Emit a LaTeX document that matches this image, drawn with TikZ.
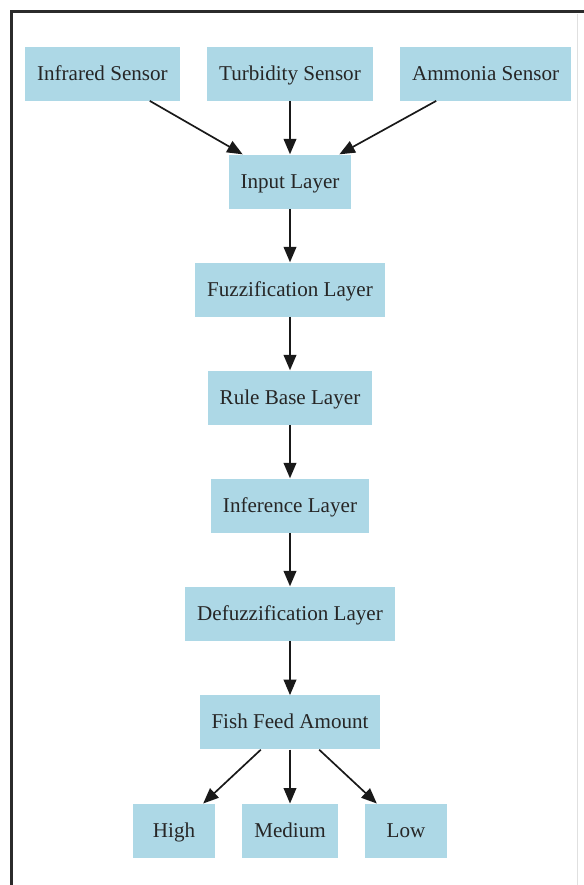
\documentclass[tikz,border=0pt]{standalone}
\usepackage{fontspec}
\setmainfont{Liberation Serif}
\usetikzlibrary{arrows, arrows.meta}

\definecolor{boxblue}{HTML}{ADD8E6}
\definecolor{framegray}{HTML}{2B2B2B}

\begin{document}
\begin{tikzpicture}[
    layer/.style={rectangle, fill=boxblue, inner xsep=0.3cm, inner ysep=0pt,
      minimum width=2.05cm, minimum height=1.35cm,
      text height=2.4ex, text depth=0.4ex,
      font=\fontsize{15}{18}\selectfont, text=black!85},
    link/.style={-{Triangle[length=11pt, width=9pt]}, line width=1.2pt, black!90}
  ]
      \useasboundingbox (0,0) rectangle (14.6,-22.125);
      \fill[white] (0,0) rectangle (14.6,-22.125);

      % frame
      \draw[framegray, line width=2.1pt] (0.2875,-22.125) -- (0.2875,-0.2875) -- (14.6,-0.2875);
      \draw[black!12, line width=0.6pt] (14.43,-0.35) -- (14.43,-22.125);

      % sensors
      \node[layer] (infra) at (2.56,-1.84) {Infrared Sensor};
      \node[layer] (turb) at (7.25,-1.84) {Turbidity Sensor};
      \node[layer] (ammo) at (12.14,-1.84) {Ammonia Sensor};

      % layers
      \node[layer] (input) at (7.25,-4.54) {Input Layer};
      \node[layer] (fuzz) at (7.25,-7.24) {Fuzzification Layer};
      \node[layer] (rule) at (7.25,-9.94) {Rule Base Layer};
      \node[layer] (infer) at (7.25,-12.64) {Inference Layer};
      \node[layer] (defuzz) at (7.25,-15.34) {Defuzzification Layer};
      \node[layer] (feed) at (7.25,-18.06) {Fish Feed Amount};

      % outputs
      \node[layer] (high) at (4.35,-20.77) {High};
      \node[layer] (medium) at (7.25,-20.77) {Medium};
      \node[layer] (low) at (10.15,-20.77) {Low};

      \draw[link] (infra) -- (input);
      \draw[link] (turb) -- (input);
      \draw[link] (ammo) -- (input);
      \draw[link] (input) -- (fuzz);
      \draw[link] (fuzz) -- (rule);
      \draw[link] (rule) -- (infer);
      \draw[link] (infer) -- (defuzz);
      \draw[link] (defuzz) -- (feed);
      \draw[link] (feed) -- (high);
      \draw[link] (feed) -- (medium);
      \draw[link] (feed) -- (low);
    \end{tikzpicture}
\end{document}
